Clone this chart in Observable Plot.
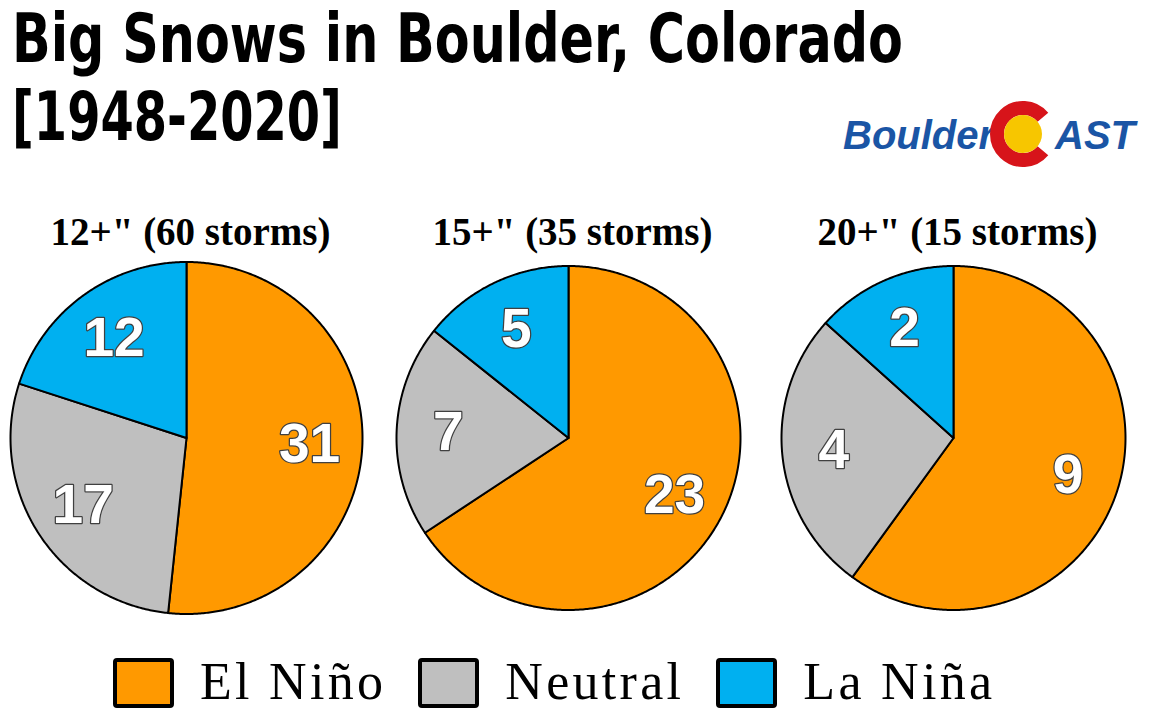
<!DOCTYPE html>
<html>
<head>
<meta charset="utf-8">
<script src="https://cdn.jsdelivr.net/npm/d3@7"></script>
<script src="https://cdn.jsdelivr.net/npm/@observablehq/plot@0.6"></script>
<style>
  html, body { margin: 0; padding: 0; background: #fff; }
  #page { position: relative; width: 1150px; height: 720px; overflow: hidden; background: #fff; }
  .tl { position: absolute; left: 12px; font-family: "DejaVu Sans Condensed", "DejaVu Sans", sans-serif;
        font-stretch: condensed; font-weight: bold; font-size: 67px; line-height: 78px; color: #000;
        white-space: nowrap; transform-origin: 0 0; }
  #logo { position: absolute; left: 835px; top: 95px; }
  .pie { position: absolute; }
  #legend { position: absolute; left: 113px; top: 656px; display: flex; align-items: flex-start; }
  .sw { width: 53px; height: 42px; border: 4px solid #000; border-radius: 4px; margin-top: 2px; margin-right: 26px; }
  .lt { font-family: "Liberation Serif", "Times New Roman", serif; font-size: 52px; line-height: 52px;
        letter-spacing: 3.3px; color: #000; margin-right: 32px; white-space: nowrap; }
</style>
</head>
<body>
<div id="page">
  <div class="tl" id="t1" style="top:0">Big Snows in Boulder, Colorado</div>
  <div class="tl" id="t2" style="top:78px">[1948-2020]</div>
  <svg id="logo" width="310" height="80" viewBox="0 0 310 80">
    <text x="8" y="54" font-family="Liberation Sans, Arial, sans-serif" font-weight="bold" font-style="italic" font-size="40" fill="#1a55a5">Boulder</text>
    <path id="cring" fill="none" stroke="#d7141a" stroke-width="14"></path>
    <circle cx="188" cy="39" r="19" fill="#f7c600"></circle>
    <text x="220" y="54" font-family="Liberation Sans, Arial, sans-serif" font-weight="bold" font-style="italic" font-size="40" fill="#1a55a5">AST</text>
  </svg>
  <div id="legend"></div>
</div>
<script>
// ---- data ----
const pieTitles = ['12+" (60 storms)', '15+" (35 storms)', '20+" (15 storms)'];
const categories = ["El Niño", "Neutral", "La Niña"];
const colors = ["#ff9900", "#bfbfbf", "#00b0f0"];
const elNino  = [31, 23, 9];
const neutral = [17, 7, 4];
const laNina  = [12, 5, 2];

// ---- layout (page pixels) ----
const pieCenters = [186, 568, 953];
const pieRadii = [176, 172, 172];
const CY = 437.5, PLOT_TOP = 190, PAD = 12, TITLE_BASELINE = 244;

const page = document.getElementById("page");
const series = [elNino, neutral, laNina];

pieTitles.forEach((title, i) => {
  const counts = categories.map((cat, k) => ({cat, n: series[k][i]}));
  const arcs = d3.pie().sort(null).value(d => d.n)(counts);
  const poly = [], labels = [];
  for (const a of arcs) {
    const cat = a.data.cat;
    poly.push({cat, x: 0, y: 0});
    const steps = Math.max(2, Math.ceil((a.endAngle - a.startAngle) / (Math.PI / 360)));
    for (let s = 0; s <= steps; s++) {
      const t = a.startAngle + (a.endAngle - a.startAngle) * s / steps;
      poly.push({cat, x: Math.sin(t), y: Math.cos(t)});
    }
    poly.push({cat, x: 0, y: 0});
    const m = (a.startAngle + a.endAngle) / 2;
    labels.push({cat, n: a.data.n, x: 0.7 * Math.sin(m), y: 0.7 * Math.cos(m)});
  }
  const r = pieRadii[i], cx = pieCenters[i];
  const mt = CY - PLOT_TOP - r;
  const W = 2 * r + 2 * PAD, H = mt + 2 * r + PAD;
  const chart = Plot.plot({
    width: W, height: H,
    marginLeft: PAD, marginRight: PAD, marginTop: mt, marginBottom: PAD,
    x: {domain: [-1, 1], axis: null},
    y: {domain: [-1, 1], axis: null},
    color: {domain: categories, range: colors},
    style: {background: "transparent", overflow: "visible"},
    marks: [
      Plot.line(poly, {x: "x", y: "y", z: "cat", fill: "cat", stroke: "black", strokeWidth: 2, strokeLinejoin: "round"}),
      Plot.text(labels, {x: "x", y: "y", text: d => String(d.n), fill: "white", stroke: "#404040", strokeWidth: 2.5,
        paintOrder: "stroke", fontSize: 55, fontWeight: "bold", fontFamily: "Liberation Sans, Arial, sans-serif",
        textAnchor: "middle", lineAnchor: "middle"}),
      Plot.text([title], {frameAnchor: "top", text: d => d, dy: TITLE_BASELINE - CY + r, dx: 4, lineAnchor: "bottom",
        fontSize: 39, fontWeight: "bold", fontFamily: "Liberation Serif, Times New Roman, serif", fill: "black"})
    ]
  });
  chart.classList.add("pie");
  chart.style.left = (cx - r - PAD) + "px";
  chart.style.top = PLOT_TOP + "px";
  page.appendChild(chart);
});

// ---- legend ----
const legend = document.getElementById("legend");
categories.forEach((c, k) => {
  const sw = document.createElement("div");
  sw.className = "sw"; sw.style.background = colors[k];
  const lt = document.createElement("div");
  lt.className = "lt"; lt.textContent = c;
  legend.appendChild(sw); legend.appendChild(lt);
});

// ---- title width fit ----
const t1 = document.getElementById("t1"), t2 = document.getElementById("t2");
t1.style.transform = `scaleX(${891 / t1.getBoundingClientRect().width})`;
t2.style.transform = `scaleX(${330 / t2.getBoundingClientRect().width})`;

// ---- logo C ring ----
(function () {
  const cx = 188, cy = 39, R = 26, a = 40 * Math.PI / 180;
  const x0 = cx + R * Math.cos(a), y0 = cy - R * Math.sin(a), y1 = cy + R * Math.sin(a);
  document.getElementById("cring").setAttribute("d", `M${x0},${y0} A${R},${R} 0 1 0 ${x0},${y1}`);
})();
</script>
</body>
</html>
